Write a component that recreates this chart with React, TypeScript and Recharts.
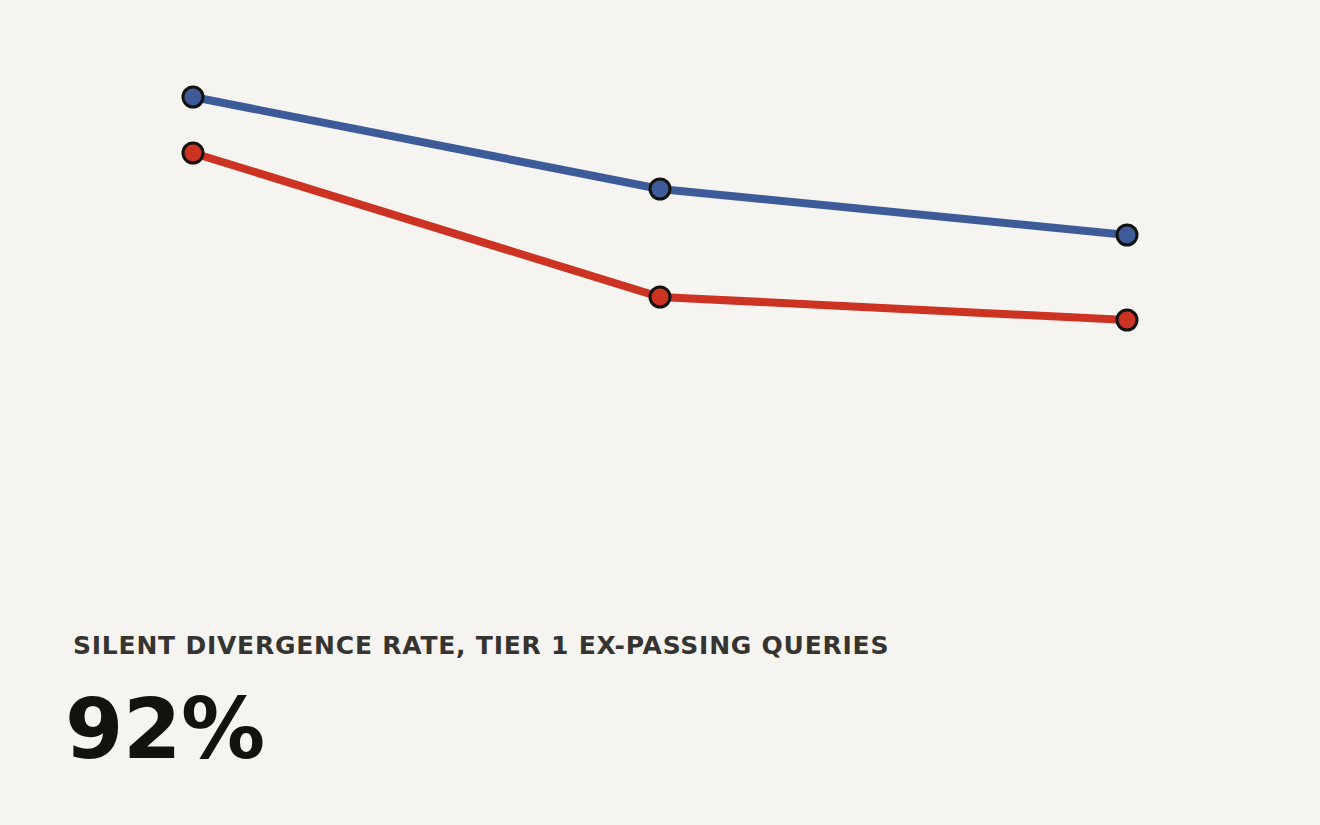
import React from "react";
import { LineChart, Line, XAxis, YAxis } from "recharts";

const categories = [0, 1, 2];
const blueValues = [92, 73.6, 64.4];
const redValues = [80.8, 52, 47.4];
const subtitle = "SILENT DIVERGENCE RATE, TIER 1 EX-PASSING QUERIES";
const headline = "92%";

const data = categories.map((c, i) => ({ x: c, blue: blueValues[i], red: redValues[i] }));

const BLUE = "#3d5b99";
const RED = "#cc3322";
const INK = "#14120e";

export default function App() {
  return (
    <div
      style={{
        position: "absolute",
        left: 0,
        top: 0,
        width: 1320,
        height: 825,
        background: "#f5f4f1",
        overflow: "hidden",
        fontFamily: "'DejaVu Sans', sans-serif",
      }}
    >
      <LineChart
        width={1320}
        height={600}
        data={data}
        margin={{ top: 57, right: 193, bottom: 43, left: 193 }}
      >
        <XAxis dataKey="x" type="number" domain={[0, 2]} hide />
        <YAxis type="number" domain={[0, 100]} hide />
        <Line
          dataKey="blue"
          stroke={BLUE}
          strokeWidth={8}
          isAnimationActive={false}
          dot={{ r: 10, fill: BLUE, stroke: INK, strokeWidth: 3 }}
          activeDot={false}
        />
        <Line
          dataKey="red"
          stroke={RED}
          strokeWidth={8}
          isAnimationActive={false}
          dot={{ r: 10, fill: RED, stroke: INK, strokeWidth: 3 }}
          activeDot={false}
        />
      </LineChart>
      <div
        style={{
          position: "absolute",
          left: 73,
          top: 631,
          fontSize: 25,
          fontWeight: 700,
          color: "#363430",
          letterSpacing: 0.77,
          whiteSpace: "nowrap",
          lineHeight: 1.2,
        }}
      >
        {subtitle}
      </div>
      <div
        style={{
          position: "absolute",
          left: 65,
          top: 679,
          fontSize: 84,
          fontWeight: 700,
          color: INK,
          whiteSpace: "nowrap",
          lineHeight: 1.2,
          letterSpacing: -0.5,
        }}
      >
        {headline}
      </div>
    </div>
  );
}
